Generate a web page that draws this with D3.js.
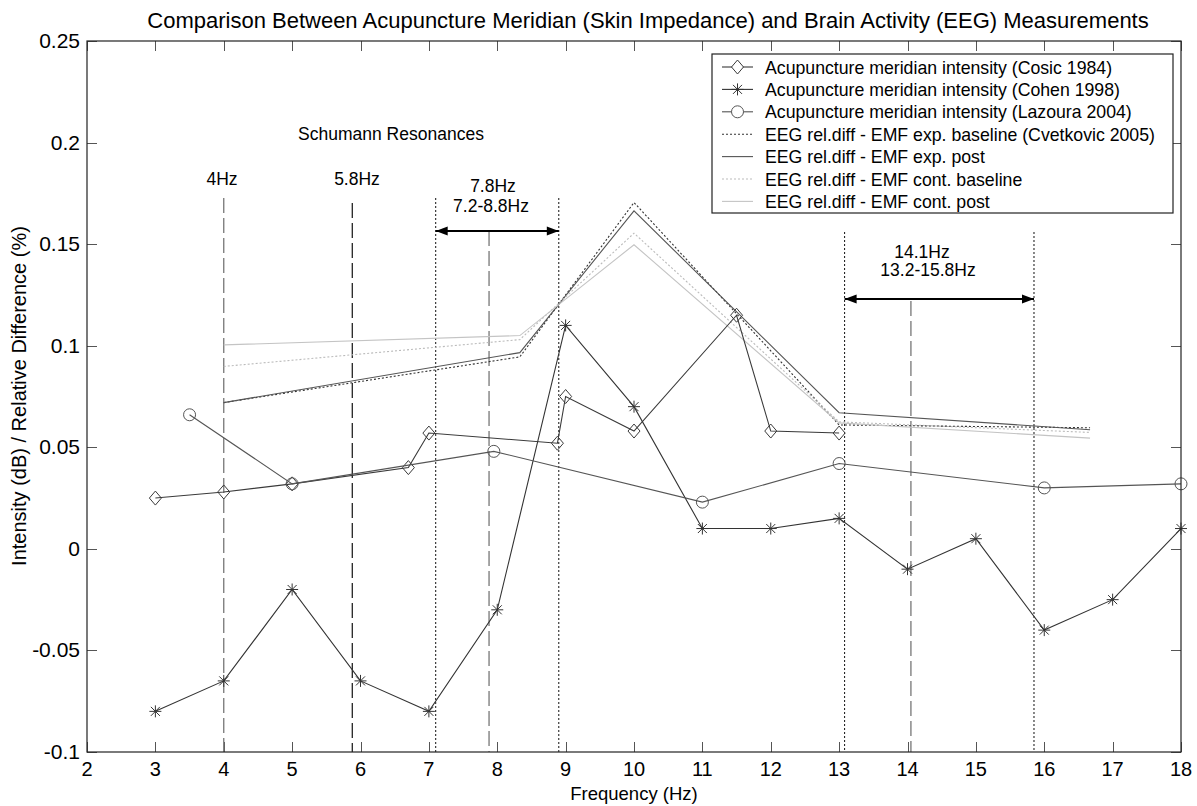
<!DOCTYPE html>
<html>
<head>
<meta charset="utf-8">
<script src="https://cdn.jsdelivr.net/npm/d3@7"></script>
<style>
  body { margin: 0; background: #fff; }
  svg text { font-family: "Liberation Sans", Arial, sans-serif; fill: #000; }
</style>
</head>
<body>
<svg id="chart" width="1197" height="806"></svg>
<script>
// axis setup
var xTicks = [2,3,4,5,6,7,8,9,10,11,12,13,14,15,16,17,18];
var yTicks = [-0.1,-0.05,0,0.05,0.1,0.15,0.2,0.25];
var yTickLabels = ["-0.1","-0.05","0","0.05","0.1","0.15","0.2","0.25"];

// acupuncture meridian series
var cosicX = [3,4,5,6.7,7,8.88,9,10,11.5,12,13];
var cosicY = [0.025,0.028,0.032,0.040,0.057,0.052,0.075,0.058,0.115,0.058,0.057];
var cohenX = [3,4,5,6,7,8,9,10,11,12,13,14,15,16,17,18];
var cohenY = [-0.08,-0.065,-0.02,-0.065,-0.08,-0.03,0.11,0.07,0.01,0.01,0.015,-0.01,0.005,-0.04,-0.025,0.01];
var lazouraX = [3.5,5,7.95,11,13,16,18];
var lazouraY = [0.066,0.032,0.048,0.023,0.042,0.030,0.032];

// EEG relative differences (Cvetkovic 2005)
var eegX = [4,8.33,10,13,16.67];
var eegExpBase = [0.072,0.0945,0.1705,0.061,0.0596];
var eegExpPost = [0.072,0.0966,0.1664,0.067,0.0586];
var eegContBase = [0.0898,0.103,0.1554,0.0625,0.0573];
var eegContPost = [0.1004,0.105,0.1497,0.062,0.0545];

// Schumann resonance markers
var centreLines = [4,5.88,7.88,14.05];
var bandLines = [7.1,8.9,13.08,15.85];

var legendLabels = [
  "Acupuncture meridian intensity (Cosic 1984)",
  "Acupuncture meridian intensity (Cohen 1998)",
  "Acupuncture meridian intensity (Lazoura 2004)",
  "EEG rel.diff - EMF exp. baseline (Cvetkovic 2005)",
  "EEG rel.diff - EMF exp. post",
  "EEG rel.diff - EMF cont. baseline",
  "EEG rel.diff - EMF cont. post"
];

var svg = d3.select("#chart");
var L = 87, R = 1181, T = 41, B = 752;
var x = d3.scaleLinear().domain([2,18]).range([L,R]);
var y = d3.scaleLinear().domain([-0.1,0.25]).range([B,T]);

var light = "#c4c4c4";

// ticks (inward, on all four sides)
var tk = svg.append("g").attr("stroke", "#555").attr("stroke-width", 1);
xTicks.forEach(function(v) {
  var px = Math.round(x(v)) + 0.5;
  tk.append("line").attr("x1", px).attr("x2", px).attr("y1", B).attr("y2", B-10);
  tk.append("line").attr("x1", px).attr("x2", px).attr("y1", T).attr("y2", T+10);
});
yTicks.forEach(function(v) {
  var py = Math.round(y(v)) + 0.5;
  tk.append("line").attr("x1", L).attr("x2", L+10).attr("y1", py).attr("y2", py);
  tk.append("line").attr("x1", R).attr("x2", R-10).attr("y1", py).attr("y2", py);
});

svg.append("g").selectAll("text").data(xTicks).join("text")
  .attr("x", function(d) { return x(d); })
  .attr("y", B + 24)
  .attr("text-anchor", "middle")
  .attr("font-size", 20)
  .text(function(d) { return d; });

svg.append("g").selectAll("text").data(yTicks).join("text")
  .attr("x", L - 7)
  .attr("y", function(d) { return y(d) + 7; })
  .attr("text-anchor", "end")
  .attr("font-size", 21)
  .text(function(d, i) { return yTickLabels[i]; });

// vertical resonance lines
var vl = svg.append("g").attr("fill", "none");
var centreTop = [198, 203, 231, 301];
centreLines.forEach(function(v, i) {
  vl.append("line")
    .attr("x1", x(v)).attr("x2", x(v))
    .attr("y1", centreTop[i]).attr("y2", B)
    .attr("stroke", i == 1 ? "#222" : "#777")
    .attr("stroke-width", 1.3)
    .attr("stroke-dasharray", "15,5");
});
var bandTop = [198, 198, 232, 232];
bandLines.forEach(function(v, i) {
  vl.append("line")
    .attr("x1", x(v)).attr("x2", x(v))
    .attr("y1", bandTop[i]).attr("y2", B)
    .attr("stroke", "#111")
    .attr("stroke-width", 1)
    .attr("stroke-dasharray", "2,2");
});

// double arrows for the bands
var defs = svg.append("defs");
defs.append("marker").attr("id", "ah").attr("viewBox", "0 0 12 10")
  .attr("refX", 12).attr("refY", 5).attr("markerWidth", 13).attr("markerHeight", 10)
  .attr("markerUnits", "userSpaceOnUse")
  .attr("orient", "auto-start-reverse")
  .append("path").attr("d", "M0,0.5 L12,5 L0,9.5 Z").attr("fill", "#000");
[[bandLines[0], bandLines[1], 231], [bandLines[2], bandLines[3], 299]].forEach(function(a) {
  svg.append("line")
    .attr("x1", x(a[0])).attr("x2", x(a[1]))
    .attr("y1", a[2]).attr("y2", a[2])
    .attr("stroke", "#000").attr("stroke-width", 2)
    .attr("marker-start", "url(#ah)").attr("marker-end", "url(#ah)");
});

// annotations
var notes = [
  ["Schumann Resonances", 391, 140],
  ["4Hz", 222, 185],
  ["5.8Hz", 357, 185],
  ["7.8Hz", 493, 192],
  ["7.2-8.8Hz", 491, 212],
  ["14.1Hz", 922, 258],
  ["13.2-15.8Hz", 928, 276]
];
svg.append("g").selectAll("text").data(notes).join("text")
  .attr("x", function(d) { return d[1]; })
  .attr("y", function(d) { return d[2]; })
  .attr("text-anchor", "middle")
  .attr("font-size", 17.5)
  .text(function(d) { return d[0]; });

// series
var line = d3.line().x(function(d) { return x(d[0]); }).y(function(d) { return y(d[1]); });
function zip(a, b) { return a.map(function(v, i) { return [v, b[i]]; }); }

var eeg = [
  {vals: eegExpBase, color: "#333", dash: "2,2"},
  {vals: eegExpPost, color: "#555", dash: null},
  {vals: eegContBase, color: "#bbb", dash: "2,2"},
  {vals: eegContPost, color: light, dash: null}
];
eeg.forEach(function(s) {
  svg.append("path").datum(zip(eegX, s.vals))
    .attr("d", line).attr("fill", "none")
    .attr("stroke", s.color).attr("stroke-width", 1.1)
    .attr("stroke-dasharray", s.dash);
});

function drawMarker(g, kind, cx, cy) {
  if (kind == "diamond") {
    g.append("path").attr("d", "M" + cx + "," + (cy-7) + " L" + (cx+6) + "," + cy + " L" + cx + "," + (cy+7) + " L" + (cx-6) + "," + cy + " Z");
  } else if (kind == "circle") {
    g.append("circle").attr("cx", cx).attr("cy", cy).attr("r", 6);
  } else {
    g.append("path").attr("d",
      "M" + (cx-6) + "," + cy + " L" + (cx+6) + "," + cy +
      " M" + cx + "," + (cy-6) + " L" + cx + "," + (cy+6) +
      " M" + (cx-4.5) + "," + (cy-4.5) + " L" + (cx+4.5) + "," + (cy+4.5) +
      " M" + (cx-4.5) + "," + (cy+4.5) + " L" + (cx+4.5) + "," + (cy-4.5));
  }
}

var acu = [
  {xs: cosicX, ys: cosicY, kind: "diamond", color: "#3a3a3a"},
  {xs: cohenX, ys: cohenY, kind: "star", color: "#333"},
  {xs: lazouraX, ys: lazouraY, kind: "circle", color: "#555"}
];
acu.forEach(function(s) {
  var pts = zip(s.xs, s.ys);
  svg.append("path").datum(pts)
    .attr("d", line).attr("fill", "none")
    .attr("stroke", s.color).attr("stroke-width", 1.1);
  var g = svg.append("g").attr("fill", "none").attr("stroke", s.color).attr("stroke-width", 1);
  pts.forEach(function(p) { drawMarker(g, s.kind, x(p[0]), y(p[1])); });
});

// axes box
svg.append("rect").attr("x", L).attr("y", T).attr("width", R-L).attr("height", B-T)
  .attr("fill", "none").attr("stroke", "#222").attr("stroke-width", 1.2);

// legend
var lg = svg.append("g");
var lx = 712, ly = 54, rowH = 22.4;
lg.append("rect").attr("x", lx).attr("y", ly).attr("width", 461).attr("height", 159)
  .attr("fill", "#fff").attr("stroke", "#222").attr("stroke-width", 1.2);
var legStyles = [
  {color: "#3a3a3a", dash: null, kind: "diamond"},
  {color: "#333", dash: null, kind: "star"},
  {color: "#555", dash: null, kind: "circle"},
  {color: "#333", dash: "2,2"},
  {color: "#555", dash: null},
  {color: "#bbb", dash: "2,2"},
  {color: light, dash: null}
];
legendLabels.forEach(function(lab, i) {
  var cy = ly + 13 + i * rowH;
  var st = legStyles[i];
  lg.append("line").attr("x1", 722).attr("x2", 753).attr("y1", cy).attr("y2", cy)
    .attr("stroke", st.color).attr("stroke-width", 1.1).attr("stroke-dasharray", st.dash);
  if (st.kind) {
    var g = lg.append("g").attr("fill", "#fff").attr("stroke", st.color);
    drawMarker(g, st.kind, 737.5, cy);
  }
  lg.append("text").attr("x", 765).attr("y", cy + 6.5).attr("font-size", 17.7).text(lab);
});

// titles
svg.append("text").attr("x", 648).attr("y", 28).attr("text-anchor", "middle")
  .attr("font-size", 22)
  .text("Comparison Between Acupuncture Meridian (Skin Impedance) and Brain Activity (EEG) Measurements");
svg.append("text").attr("x", 634).attr("y", 800).attr("text-anchor", "middle")
  .attr("font-size", 18.5).text("Frequency (Hz)");
svg.append("text").attr("transform", "translate(26,396) rotate(-90)").attr("text-anchor", "middle")
  .attr("font-size", 20).text("Intensity (dB) / Relative Difference (%)");
</script>
</body>
</html>
